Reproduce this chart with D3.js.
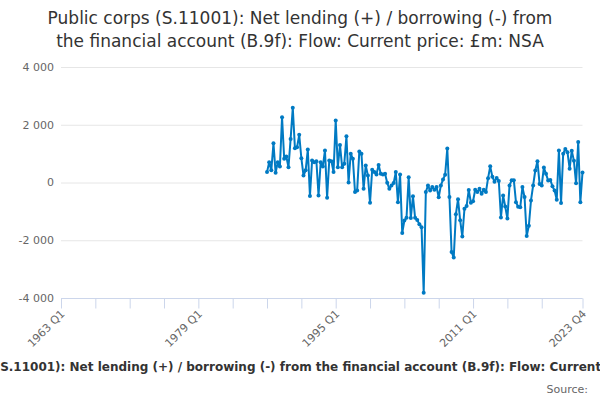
<!DOCTYPE html>
<html>
<head>
<meta charset="utf-8">
<script src="https://cdn.jsdelivr.net/npm/d3@7"></script>
<style>
  body { margin: 0; background: #fff; }
  text { font-family: "DejaVu Sans", sans-serif; }
</style>
</head>
<body>
<div id="chart"></div>
<script>
const titleLines = [
    "Public corps (S.11001): Net lending (+) / borrowing (-) from",
    "the financial account (B.9f): Flow: Current price: £m: NSA"
];
const axisTitle = "Public corps (S.11001): Net lending (+) / borrowing (-) from the financial account (B.9f): Flow: Current price: £m: NSA";
const sourceText = "Source: ";

const firstYear = 1963, lastYear = 2023;
const seriesStart = "1987 Q1";
// quarterly values, £m, 1987 Q1 .. 2023 Q4
const values = [
    360, 700, 420, 1360, 340, 700, 550, 2260, 820, 900,
    530, 1510, 2590, 1190, 1220, 1650, 840, 240, 420, 1140,
    -470, 760, 700, 740, -450, 700, 550, 1110, -530, 760,
    740, 360, 2150, 530, 1300, 530, 650, 1600, 0, 1000,
    820, -330, -280, 1070, 1000, -220, 590, 240, -700, 440,
    360, 280, 610, 300, 280, 300, -10, -220, -100, -20,
    360, -680, 280, -1750, -1320, -1220, 180, -1230, -480, -1220,
    -1300, -1450, -1550, -3820, -330, -100, -280, -160, -250, -160,
    -510, -100, 100, 270, 1180, -500, -2410, -2600, -1100, -580,
    -1310, -1870, -910, -810, -260, -700, -650, -250, -330, -220,
    -390, -250, -330, 150, 560, 200, 30, 160, 50, -1210,
    -450, -830, -1250, -100, 80, 80, -680, -840, -860, -160,
    -500, -1850, -1500, -620, -100, 415, 740, -50, -100, 520,
    300, 70, 90, -130, -280, -600, 1110, -710, 1000, 1160,
    1050, 480, 1100, 750, -30, 1400, -680, 350
];
const yTicks = [-4000, -2000, 0, 2000, 4000];
const xTickLabels = ["1963 Q1", "1979 Q1", "1995 Q1", "2011 Q1", "2023 Q4"];

const quarters = [];
for (let yr = firstYear; yr <= lastYear; yr++)
    for (let q = 1; q <= 4; q++) quarters.push(`${yr} Q${q}`);

const startIdx = quarters.indexOf(seriesStart);
const data = values.map((v, i) => ({ q: quarters[startIdx + i], v: v }));

const width = 600, height = 400;
const plot = { left: 61, right: 582.5, top: 67, bottom: 298 };

const svg = d3.select('#chart')
    .append('svg')
    .attr('width', width)
    .attr('height', height);

const x = d3.scalePoint()
    .domain(quarters)
    .range([plot.left, plot.right]);

const y = d3.scaleLinear()
    .domain([-4000, 4000])
    .range([plot.bottom, plot.top]);

const fmt = d3.formatLocale({ decimal: ".", thousands: " ", grouping: [3], currency: ["", ""], minus: "-" }).format(",");

// title
svg.append('g')
    .selectAll('text')
    .data(titleLines)
    .join('text')
    .attr('x', width / 2)
    .attr('y', (d, i) => 24 + i * 23)
    .attr('text-anchor', 'middle')
    .style('font-size', '17px')
    .style('fill', '#333333')
    .text(d => d);

// horizontal grid
svg.append('g')
    .selectAll('line')
    .data(yTicks)
    .join('line')
    .attr('x1', plot.left)
    .attr('x2', plot.right)
    .attr('y1', d => y(d) + 0.5)
    .attr('y2', d => y(d) + 0.5)
    .attr('stroke', '#e6e6e6');

// y labels
svg.append('g')
    .selectAll('text')
    .data(yTicks)
    .join('text')
    .attr('x', 54)
    .attr('y', d => y(d))
    .attr('dy', '0.35em')
    .attr('text-anchor', 'end')
    .style('font-size', '11px')
    .style('fill', '#666666')
    .text(d => fmt(d));

// x axis
const xTicks = quarters.filter((d, i) => (i % 16 === 0 && i < 240) || i === quarters.length - 1);
const xAxis = svg.append('g')
    .attr('transform', `translate(0, ${plot.bottom + 0.5})`)
    .call(d3.axisBottom(x).tickValues(xTicks).tickSize(10).tickFormat(d => xTickLabels.includes(d) ? d : ""));
xAxis.select('.domain').attr('stroke', '#ccd6eb').attr('d', `M${plot.left},0H${plot.right}`);
xAxis.selectAll('.tick line').attr('stroke', '#ccd6eb');
xAxis.selectAll('.tick text')
    .attr('y', 0)
    .attr('dy', 0)
    .attr('transform', 'translate(4, 16) rotate(-45)')
    .style('text-anchor', 'end')
    .style('font-size', '11px')
    .style('font-family', '"DejaVu Sans", sans-serif')
    .style('fill', '#666666');

// line
const line = d3.line()
    .x(d => x(d.q))
    .y(d => y(d.v));

svg.append('path')
    .datum(data)
    .attr('d', line)
    .attr('fill', 'none')
    .attr('stroke', '#007ac3')
    .attr('stroke-width', 2)
    .attr('stroke-linejoin', 'round');

svg.append('g')
    .selectAll('circle')
    .data(data)
    .join('circle')
    .attr('cx', d => x(d.q))
    .attr('cy', d => y(d.v))
    .attr('r', 2)
    .attr('fill', '#007ac3');

// axis title (overflows the frame, as in the original)
svg.append('text')
    .attr('x', 307)
    .attr('y', 371)
    .attr('text-anchor', 'middle')
    .style('font-size', '12px')
    .style('font-weight', 'bold')
    .style('fill', '#333333')
    .text(axisTitle);

svg.append('text')
    .attr('x', 588)
    .attr('y', 393)
    .attr('text-anchor', 'end')
    .style('font-size', '11px')
    .style('fill', '#666666')
    .text(sourceText);
</script>
</body>
</html>
